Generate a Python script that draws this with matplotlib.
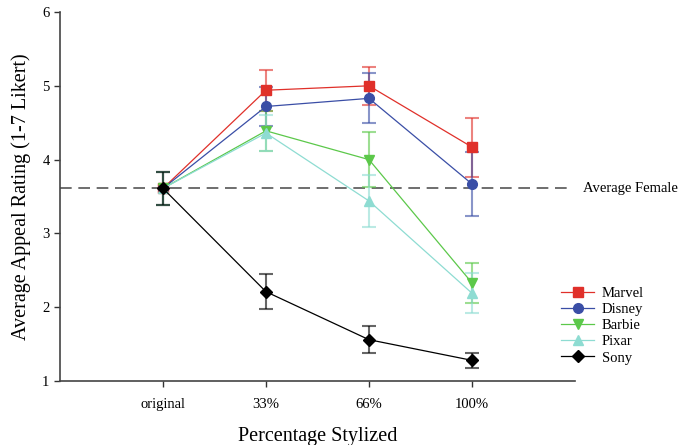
import numpy as np
import matplotlib.pyplot as plt

plt.rcParams['font.family'] = ['Liberation Serif', 'DejaVu Serif']

# Data
levels = ["original", "33%", "66%", "100%"]
avg_female = 3.61

marvel = [3.61, 4.94, 5.00, 4.17]
marvel_err = [0.22, 0.28, 0.26, 0.40]
disney = [3.61, 4.72, 4.83, 3.67]
disney_err = [0.22, 0.27, 0.34, 0.43]
barbie = [3.61, 4.39, 4.00, 2.33]
barbie_err = [0.22, 0.27, 0.37, 0.27]
pixar = [3.61, 4.36, 3.44, 2.19]
pixar_err = [0.22, 0.25, 0.35, 0.27]
sony = [3.61, 2.21, 1.56, 1.28]
sony_err = [0.22, 0.24, 0.18, 0.10]

series = [
    ("Marvel", marvel, marvel_err, "#e0302a", "s"),
    ("Disney", disney, disney_err, "#3a4ea6", "o"),
    ("Barbie", barbie, barbie_err, "#5cc84a", "v"),
    ("Pixar", pixar, pixar_err, "#8edcd2", "^"),
    ("Sony", sony, sony_err, "#000000", "D"),
]

x = np.arange(1, len(levels) + 1)

fig = plt.figure(figsize=(6.78, 4.45), dpi=100)
ax = fig.add_axes([0.0885, 0.1438, 0.7595, 0.8292])

ax.axhline(avg_female, xmax=0.995, color="#555555", lw=1.2, ls=(0, (7, 4)), zorder=1)
ax.text(5.08, avg_female, "Average Female", va="center", ha="left", fontsize=10.5)

handles = []
for name, y, err, col, mk in series:
    ax.errorbar(x, y, yerr=err, fmt="none", ecolor=col, alpha=0.6,
                elinewidth=1.5, capsize=5, capthick=1.5, zorder=2)
    h, = ax.plot(x, y, color=col, lw=0.9, marker=mk, markersize=7 if mk != "D" else 6,
                 markerfacecolor=col, markeredgecolor=col, label=name, zorder=3)
    handles.append(h)

ax.set_xlim(0, 5)
ax.set_ylim(1, 6)
ax.set_xticks(x)
ax.set_xticklabels(levels)
ax.set_yticks([1, 2, 3, 4, 5, 6])
ax.tick_params(direction="out", length=4, width=1, labelsize=10.5, colors="#333333",
               labelcolor="black")
ax.tick_params(axis="x", pad=8)
for s in ["top", "right"]:
    ax.spines[s].set_visible(False)
for s in ["left", "bottom"]:
    ax.spines[s].set_color("#444444")
    ax.spines[s].set_linewidth(1.2)

ax.set_xlabel("Percentage Stylized", fontsize=14.5, labelpad=12)
ax.set_ylabel("Average Appeal Rating (1-7 Likert)", fontsize=14.5, labelpad=8)

fig.legend(handles=handles, loc="upper left", bbox_to_anchor=(0.808, 0.385),
           frameon=False, fontsize=10.5, handlelength=2.3, labelspacing=0.2,
           handletextpad=0.5)

fig.savefig("out.png", dpi=100)
